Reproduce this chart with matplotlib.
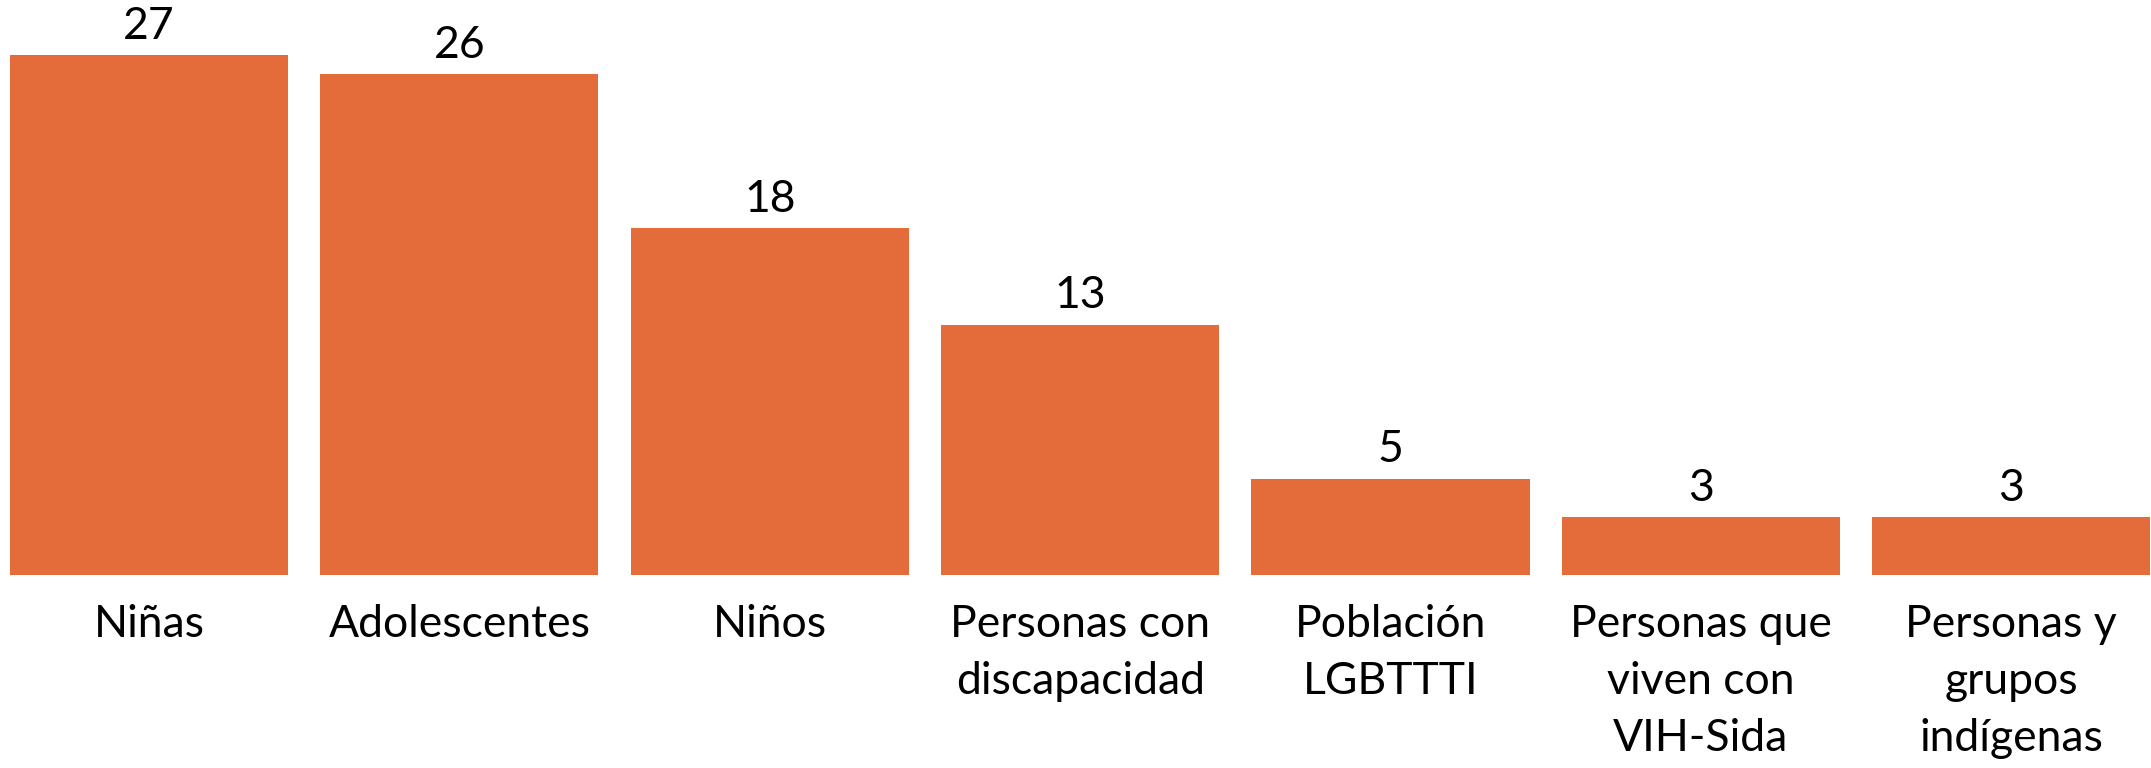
import matplotlib.pyplot as plt

# datos
categorias = ['Niñas', 'Adolescentes', 'Niños', 'Personas con\ndiscapacidad',
              'Población\nLGBTTTI', 'Personas que\nviven con\nVIH-Sida',
              'Personas y\ngrupos\nindígenas']
valores = [27, 26, 18, 13, 5, 3, 3]

plt.rcParams['font.family'] = ['Lato', 'DejaVu Sans']

fig = plt.figure(figsize=(21.51, 7.68), dpi=100)
ax = fig.add_axes([0, 193 / 768, 1, 575 / 768])

x = range(len(valores))
barras = ax.bar(x, valores, width=0.896, color='#E46C3A')
ax.bar_label(barras, padding=6, fontsize=32)

ax.set_xticks(list(x))
ax.set_xticklabels(categorias, fontsize=32, linespacing=1.48, va='top')
ax.tick_params(axis='x', length=0, pad=21)
ax.set_yticks([])
ax.set_xlim(-0.48, 6.45)
ax.set_ylim(0, 29.85)
for s in ax.spines.values():
    s.set_visible(False)

fig.savefig('out.png', dpi=100)
